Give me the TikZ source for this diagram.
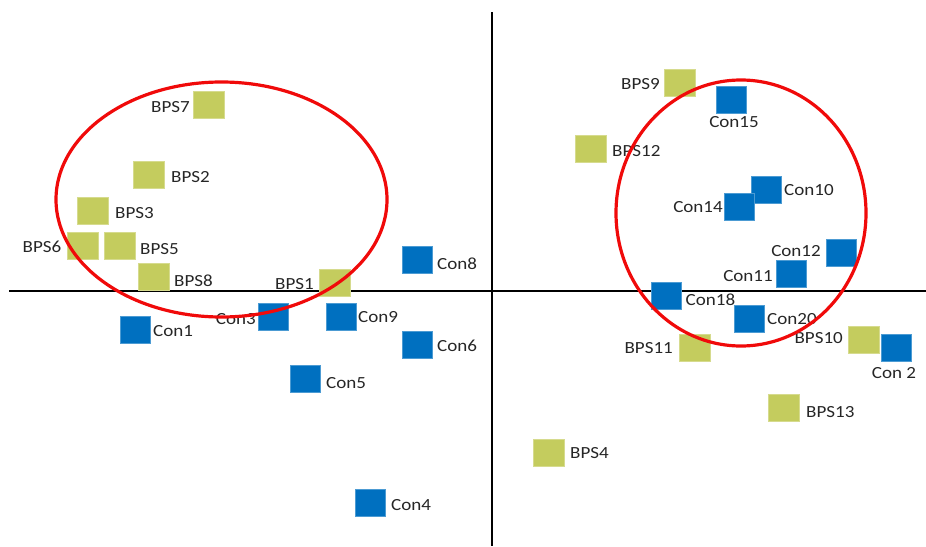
\documentclass[tikz,border=0pt]{standalone}
\usepackage{fontspec}
\setmainfont{Carlito}
\definecolor{bpsgreen}{RGB}{196,204,94}
\definecolor{conblue}{RGB}{0,112,192}
\definecolor{ringred}{RGB}{240,10,10}
\newcommand{\lbl}[1]{\scalebox{1.12}[1]{#1}}
\tikzset{
  bps/.style={fill=bpsgreen, draw=bpsgreen!70!white, line width=0.6pt, minimum width=31pt, minimum height=27pt, inner sep=0pt},
  con/.style={fill=conblue, draw=conblue!70!white, line width=0.6pt, minimum width=30pt, minimum height=27pt, inner sep=0pt},
  txt/.style={inner sep=0pt, font=\fontsize{17}{17}\selectfont, text=black!85},
  axis/.style={line width=2pt, black},
  ring/.style={line width=3.2pt, ringred}
}
\begin{document}
\begin{tikzpicture}[x=1pt,y=-1pt]
\useasboundingbox (0,0) rectangle (926,546);
% axes
\coordinate (hl) at (9,291);
\coordinate (hr) at (926,291);
\coordinate (vt) at (492,12);
\coordinate (vb) at (492,546);
\draw[axis] (hl) -- (hr);
\draw[axis] (vt) -- (vb);
% left group
\node[bps] (bps7) at (208.5,105) {};
\node[txt, anchor=east] (lbps7) at (190,107) {\lbl{BPS7}};
\node[bps] (bps2) at (149,175) {};
\node[txt, anchor=west] (lbps2) at (171,177) {\lbl{BPS2}};
\node[bps] (bps3) at (93,211) {};
\node[txt, anchor=west] (lbps3) at (115,213) {\lbl{BPS3}};
\node[bps] (bps6) at (82.5,245.5) {};
\node[txt, anchor=east] (lbps6) at (61.5,247) {\lbl{BPS6}};
\node[bps] (bps5) at (119.5,245.5) {};
\node[txt, anchor=west] (lbps5) at (140,249) {\lbl{BPS5}};
\node[bps] (bps8) at (154,276.5) {};
\node[txt, anchor=west] (lbps8) at (174,281) {\lbl{BPS8}};
\node[txt, anchor=east] (lbps1) at (314,284) {\lbl{BPS1}};
\node[bps] (bps1) at (335,283) {};
\node[con] (con8) at (417,260) {};
\node[txt, anchor=west] (lcon8) at (437,264) {\lbl{Con8}};
\node[txt, anchor=east] (lcon3) at (256,319) {\lbl{Con3}};
\node[con] (con3) at (273,317) {};
\node[con] (con9) at (341,317) {};
\node[txt, anchor=west] (lcon9) at (358,317) {\lbl{Con9}};
\node[con] (con1) at (135,330) {};
\node[txt, anchor=west] (lcon1) at (153,331) {\lbl{Con1}};
\node[con] (con6) at (417,345) {};
\node[txt, anchor=west] (lcon6) at (437,346) {\lbl{Con6}};
\node[con] (con5) at (305.5,379) {};
\node[txt, anchor=west] (lcon5) at (326,383) {\lbl{Con5}};
\node[con] (con4) at (370,503) {};
\node[txt, anchor=west] (lcon4) at (391,505) {\lbl{Con4}};
% right group
\node[bps] (bps9) at (680,83) {};
\node[txt, anchor=east] (lbps9) at (660,84) {\lbl{BPS9}};
\node[con] (con15) at (731,100) {};
\node[txt] (lcon15) at (734,122) {\lbl{Con15}};
\node[bps] (bps12) at (591,149) {};
\node[txt, anchor=west] (lbps12) at (612,151) {\lbl{BPS12}};
\node[con] (con10) at (766.5,189.5) {};
\node[txt, anchor=west] (lcon10) at (784,190) {\lbl{Con10}};
\node[con] (con14) at (739.5,207) {};
\node[txt, anchor=east] (lcon14) at (723,207) {\lbl{Con14}};
\node[con] (con12) at (841,253) {};
\node[txt, anchor=east] (lcon12) at (821,251) {\lbl{Con12}};
\node[con] (con11) at (791.5,274) {};
\node[txt, anchor=east] (lcon11) at (773,276) {\lbl{Con11}};
\node[con] (con18) at (666.5,296) {};
\node[txt, anchor=west] (lcon18) at (685.5,300) {\lbl{Con18}};
\node[con] (con20) at (749,318.5) {};
\node[txt, anchor=west] (lcon20) at (767,319) {\lbl{Con20}};
\node[bps] (bps11) at (695,347.5) {};
\node[txt, anchor=east] (lbps11) at (673,348) {\lbl{BPS11}};
\node[bps] (bps10) at (863.5,340) {};
\node[txt, anchor=east] (lbps10) at (843,338) {\lbl{BPS10}};
\node[con] (con2) at (896,347.5) {};
\node[txt] (lcon2) at (894,373) {\lbl{Con 2}};
\node[bps] (bps13) at (783.5,408) {};
\node[txt, anchor=west] (lbps13) at (806,412) {\lbl{BPS13}};
\node[bps] (bps4) at (549,452.5) {};
\node[txt, anchor=west] (lbps4) at (570,453) {\lbl{BPS4}};
% rings
\coordinate (lc) at (221.5,199.5);
\coordinate (rc) at (741,213);
\draw[ring] (lc) ellipse [x radius=165.5pt, y radius=117.5pt];
\draw[ring] (rc) ellipse [x radius=125pt, y radius=133pt];
\end{tikzpicture}
\end{document}
